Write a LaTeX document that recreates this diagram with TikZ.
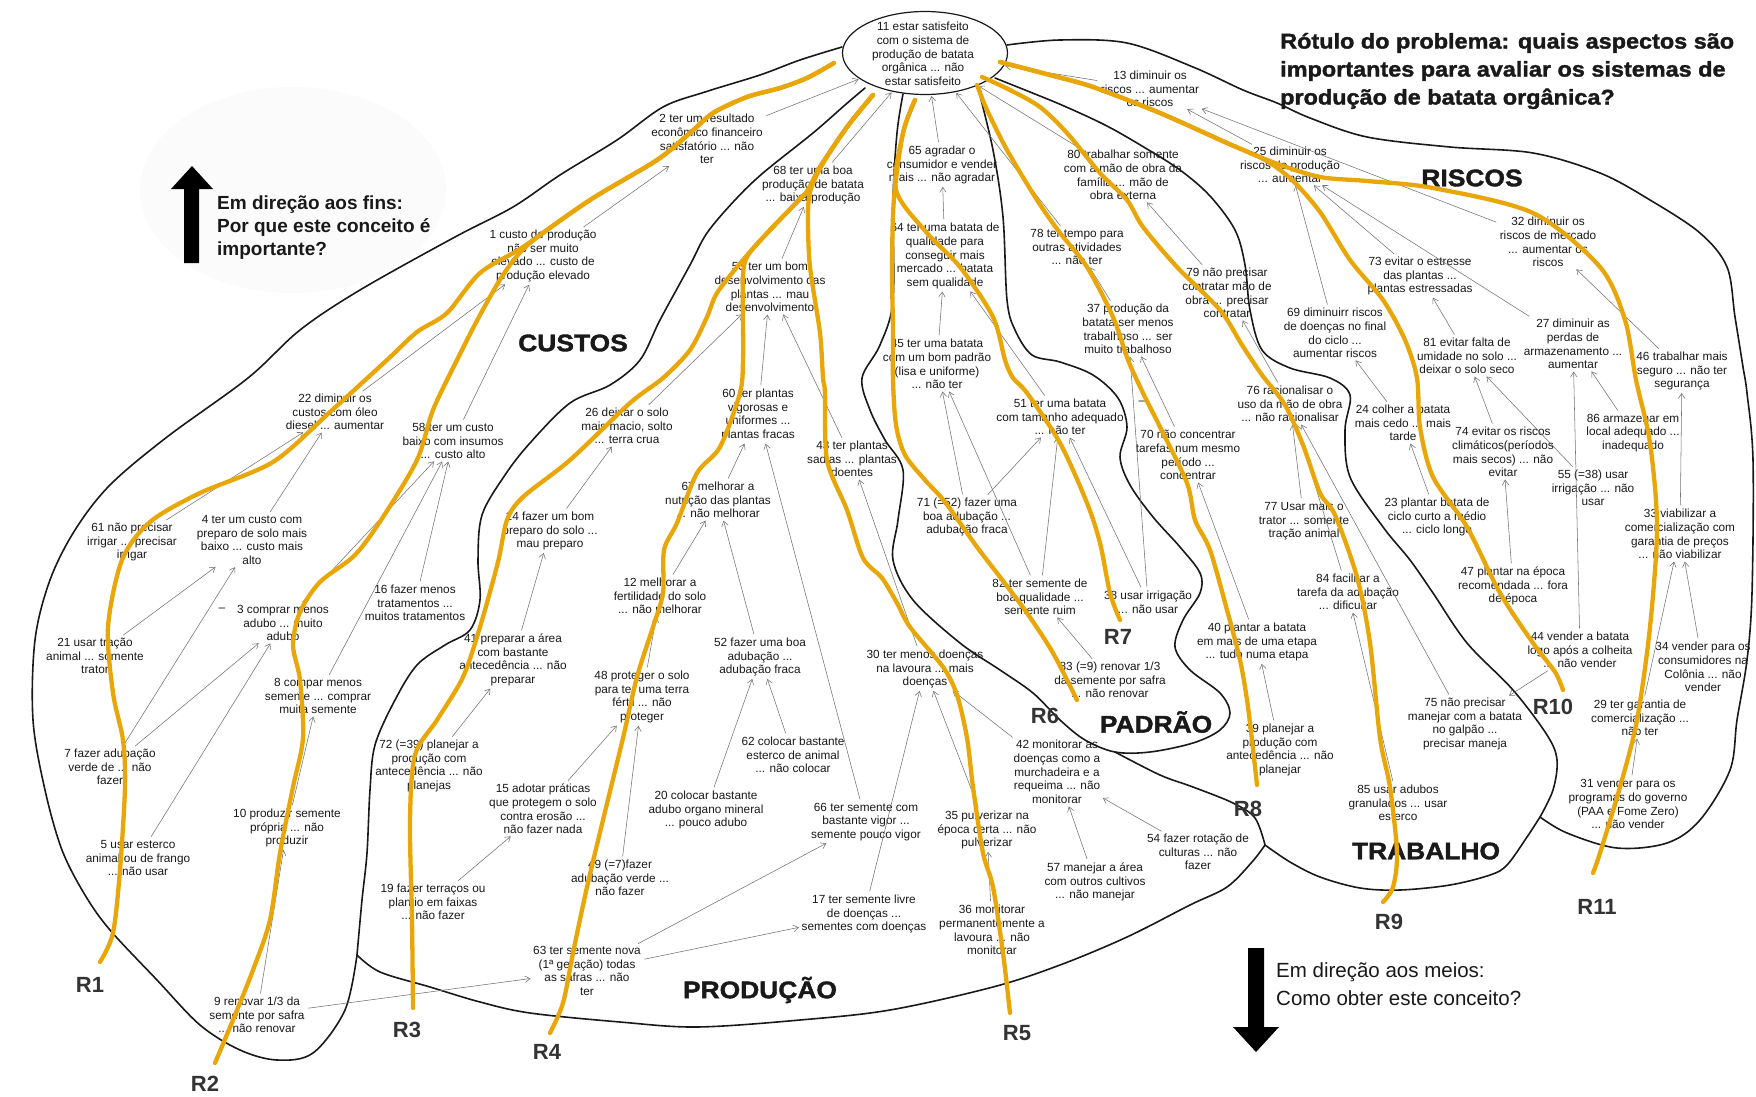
\documentclass[tikz,border=0pt]{standalone}
\usepackage{fontspec}
\setmainfont{Liberation Sans}
\newfontfamily\heavy{Liberation Sans}[FakeStretch=1.1,BoldFeatures={FakeBold=1.6}]
\usetikzlibrary{arrows.meta,shapes.geometric}
\definecolor{rcol}{RGB}{233,166,8}
\definecolor{ink}{RGB}{25,25,25}
\begin{document}
\begin{tikzpicture}[x=1pt,y=-1pt,
  cpt/.style={align=center,font=\fontsize{11.8}{13.7}\selectfont,inner sep=1.5pt,text=ink},
  lnk/.style={draw=black!55,line width=0.55pt,-{Straight Barb[length=5pt,width=6.5pt]},shorten <=2pt,shorten >=1pt},
  bnd/.style={draw=ink,line width=1.6pt,line join=round,line cap=round},
  rpath/.style={draw=rcol,line width=4.3pt,line join=round,line cap=round},
  rlab/.style={font=\bfseries\fontsize{22}{22}\selectfont,text=black!80},
  region/.style={font=\heavy\bfseries\fontsize{24}{24}\selectfont,text=ink},
  blockarrow/.style={fill=black}]
\useasboundingbox (0,0) rectangle (1756,1097);
\fill[white] (0,0) rectangle (1756,1097);

% soft halo behind the upward hint
\fill[black!1.5] (293,190) ellipse [x radius=153pt, y radius=103pt];

% ---------- title and direction hints ----------
\node[anchor=west,align=left,inner sep=0,font=\heavy\bfseries\fontsize{21.3}{28}\selectfont,text=ink] (title) at (1280,71)
  {Rótulo do problema: quais aspectos são\\importantes para avaliar os sistemas de\\produção de batata orgânica?};
\fill[blockarrow] (184,263) -- (199,263) -- (199,189) -- (213,189) -- (192,166) -- (171,189) -- (184,189) -- cycle;
\node[anchor=west,align=left,inner sep=0,font=\bfseries\fontsize{19}{23}\selectfont,text=ink] (upnote) at (217,228)
  {Em direção aos fins:\\Por que este conceito é\\importante?};
\fill[blockarrow] (1248,948) -- (1264,948) -- (1264,1027) -- (1279,1027) -- (1256,1052) -- (1233,1027) -- (1248,1027) -- cycle;
\node[anchor=west,align=left,inner sep=0,font=\fontsize{20.5}{28}\selectfont,text=ink] (downnote) at (1276,984)
  {Em direção aos meios:\\Como obter este conceito?};

% ---------- region boundaries ----------
% custos, outer side
\draw[bnd] plot[smooth,tension=0.55] coordinates {(842,47) (800,60) (760,75) (705,92) (663,107) (617,140) (560,175) (513,207) (455,237) (360,290) (300,330) (248,378) (167,437) (110,485) (75,530) (50,580) (35,640) (33,720) (45,790) (62,850) (85,895) (110,930) (157,980) (200,1025) (240,1050) (277,1060) (313,1053) (345,1010) (357,955)};
% custos / producao
\draw[bnd] plot[smooth,tension=0.55] coordinates {(357,955) (362,900) (367,853) (370,790) (375,745) (395,700) (417,665) (445,645) (470,630) (480,600) (478,560) (482,515) (505,475) (530,443) (570,403) (610,385) (640,360) (660,320) (690,265) (707,233) (735,200) (763,173) (813,133) (845,105) (865,88)};
% producao, bottom
\draw[bnd] plot[smooth,tension=0.55] coordinates {(357,955) (380,972) (430,987) (480,1002) (530,1013) (620,1022) (697,1027) (800,1020) (890,1010) (993,987) (1060,965) (1127,937) (1190,905) (1227,887) (1252,862) (1265,845)};
% padrao, closed loop
\draw[bnd] plot[smooth,tension=0.55] coordinates {(903,94) (897,133) (893,200) (893,300) (880,345) (862,378) (870,410) (885,440) (903,470) (898,520) (893,560) (913,600) (960,643) (1000,670) (1033,693) (1060,720) (1085,740) (1115,752) (1150,752) (1193,743) (1220,730) (1230,713) (1220,693) (1190,670) (1175,647) (1183,620) (1200,593) (1200,573) (1180,547) (1153,517) (1130,485) (1120,457) (1127,427) (1118,398) (1093,375) (1060,362) (1032,355) (1015,330) (1007,300) (1003,217) (993,150) (978,88)};
% producao / trabalho
\draw[bnd] plot[smooth,tension=0.55] coordinates {(1115,752) (1160,775) (1193,787) (1233,803) (1255,818) (1265,845)};
% trabalho, bottom
\draw[bnd] plot[smooth,tension=0.55] coordinates {(1265,845) (1290,862) (1320,877) (1360,888) (1400,890) (1450,885) (1490,875) (1507,865) (1527,837) (1540,817)};
% trabalho / riscos
\draw[bnd] plot[smooth,tension=0.55] coordinates {(995,78) (1030,92) (1064,106) (1105,125) (1142,146) (1180,170) (1210,196) (1235,230) (1245,265) (1250,310) (1262,350) (1290,368) (1330,378) (1350,395) (1345,430) (1350,477) (1383,527) (1410,560) (1433,593) (1467,643) (1513,690) (1547,735) (1557,760) (1553,790) (1540,817)};
% riscos, outer side
\draw[bnd] plot[smooth,tension=0.55] coordinates {(1007,45) (1060,40) (1127,43) (1193,67) (1243,90) (1277,103) (1310,118) (1367,137) (1450,147) (1533,153) (1600,173) (1650,200) (1700,233) (1727,267) (1735,317) (1743,367) (1747,393) (1753,460) (1752,593) (1747,660) (1737,720) (1730,770) (1700,820) (1667,843) (1617,848) (1567,833) (1540,817)};

% ---------- concepts ----------
\node[ellipse,draw=ink,line width=1.2pt,minimum width=165pt,minimum height=83pt,inner sep=0] (e11) at (925,53) {};
\node[cpt] (c11) at (923,54) {11 estar satisfeito\\com o sistema de\\produção de batata\\orgânica ... não\\estar satisfeito};
\node[cpt] (c2) at (707,139) {2 ter um resultado\\econômico financeiro\\satisfatório ... não\\ter};
\node[cpt] (c1) at (543,256) {1 custo de produção\\não ser muito\\elevado ... custo de\\produção elevado};
\node[cpt] (c68) at (813,185) {68 ter uma boa\\produção de batata\\... baixa produção};
\node[cpt] (c53) at (770,287) {53 ter um bom\\desenvolvimento das\\plantas ... mau\\desenvolvimento};
\node[cpt] (c65) at (942,165) {65 agradar o\\consumidor e vender\\mais ... não agradar};
\node[cpt] (c64) at (945,256) {64 ter uma batata de\\qualidade para\\conseguir mais\\mercado ... batata\\sem qualidade};
\node[cpt] (c45) at (937,364) {45 ter uma batata\\com um bom padrão\\(lisa e uniforme)\\... não ter};
\node[cpt] (c80) at (1123,175) {80 trabalhar somente\\com a mão de obra da\\família ... mão de\\obra externa};
\node[cpt] (c78) at (1077,247) {78 ter tempo para\\outras atividades\\... não ter};
\node[cpt] (c79) at (1227,293) {79 não precisar\\contratar mão de\\obra ... precisar\\contratar};
\node[cpt] (c37) at (1128,329) {37 produção da\\batata ser menos\\trabalhoso ... ser\\muito trabalhoso};
\node[cpt] (c13) at (1150,89) {13 diminuir os\\riscos ... aumentar\\os riscos};
\node[cpt] (c25) at (1290,165) {25 diminuir os\\riscos de produção\\... aumentar};
\node[cpt] (c32) at (1548,242) {32 diminuir os\\riscos de mercado\\... aumentar os\\riscos};
\node[cpt] (c73) at (1420,276) {73 evitar o estresse\\das plantas ...\\plantas estressadas};
\node[cpt] (c69) at (1335,333) {69 diminuirr riscos\\de doenças no final\\do ciclo ...\\aumentar riscos};
\node[cpt] (c81) at (1467,356) {81 evitar falta de\\umidade no solo ...\\deixar o solo seco};
\node[cpt] (c27) at (1573,344) {27 diminuir as\\perdas de\\armazenamento ...\\aumentar};
\node[cpt] (c46) at (1682,371) {46 trabalhar mais\\seguro ... não ter\\segurança};
\node[cpt] (c24) at (1403,423) {24 colher a batata\\mais cedo ... mais\\tarde};
\node[cpt] (c74) at (1503,452) {74 evitar os riscos\\climáticos(períodos\\mais secos) ... não\\evitar};
\node[cpt] (c86) at (1633,433) {86 armazenar em\\local adequado ...\\inadequado};
\node[cpt] (c55) at (1593,488) {55 (=38) usar\\irrigação ... não\\usar};
\node[cpt] (c23) at (1437,517) {23 plantar batata de\\ciclo curto a médio\\... ciclo longo};
\node[cpt] (c33) at (1680,534) {33 viabilizar a\\comercialização com\\garantia de preços\\... não viabilizar};
\node[cpt] (c47) at (1513,586) {47 plantar na época\\recomendada ... fora\\de época};
\node[cpt] (c84) at (1348,592) {84 facilitar a\\tarefa da adubação\\... dificultar};
\node[cpt] (c44) at (1580,650) {44 vender a batata\\logo após a colheita\\... não vender};
\node[cpt] (c34) at (1703,667) {34 vender para os\\consumidores na\\Colônia ... não\\vender};
\node[cpt] (c75) at (1465,724) {75 não precisar\\manejar com a batata\\no galpão ...\\precisar maneja};
\node[cpt] (c29) at (1640,718) {29 ter garantia de\\comercialização ...\\não ter};
\node[cpt] (c31) at (1628,804) {31 vender para os\\programas do governo\\(PAA e Fome Zero)\\... não vender};
\node[cpt] (c85) at (1398,803) {85 usar adubos\\granulados ... usar\\esterco};
\node[cpt] (c76) at (1290,404) {76 racionalisar o\\uso da mão de obra\\... não racionalisar};
\node[cpt] (c77) at (1304,521) {77 Usar mais o\\trator ... somente\\tração animal};
\node[cpt] (c70) at (1188,455) {70 não concentrar\\tarefas num mesmo\\período ...\\concentrar};
\node[cpt] (c51) at (1060,417) {51 ter uma batata\\com tamanho adequado\\... não ter};
\node[cpt] (c71) at (967,517) {71 (=52) fazer uma\\boa adubação ...\\adubação fraca};
\node[cpt] (c82) at (1040,597) {82 ter semente de\\boa qualidade ...\\semente ruim};
\node[cpt] (c38) at (1148,602) {38 usar irrigação\\... não usar};
\node[cpt] (c83) at (1110,680) {83 (=9) renovar 1/3\\da semente por safra\\... não renovar};
\node[cpt] (c40) at (1257,642) {40 plantar a batata\\em mais de uma etapa\\... tudo numa etapa};
\node[cpt] (c30) at (925,669) {30 ter menos doenças\\na lavoura ... mais\\doenças};
\node[cpt] (c39) at (1280,750) {39 planejar a\\produção com\\antecedência ... não\\planejar};
\node[cpt] (c42) at (1057,772) {42 monitorar as\\doenças como a\\murchadeira e a\\requeima ... não\\monitorar};
\node[cpt] (c35) at (987,830) {35 pulverizar na\\época certa ... não\\pulverizar};
\node[cpt] (c54) at (1198,852) {54 fazer rotação de\\culturas ... não\\fazer};
\node[cpt] (c57) at (1095,882) {57 manejar a área\\com outros cultivos\\... não manejar};
\node[cpt] (c36) at (992,930) {36 monitorar\\permanentemente a\\lavoura ... não\\monitorar};
\node[cpt] (c62) at (793,755) {62 colocar bastante\\esterco de animal\\... não colocar};
\node[cpt] (c15) at (543,809) {15 adotar práticas\\que protegem o solo\\contra erosão ...\\não fazer nada};
\node[cpt] (c20) at (706,810) {20 colocar bastante\\adubo organo mineral\\... pouco adubo};
\node[cpt] (c66) at (866,822) {66 ter semente com\\bastante vigor ...\\semente pouco vigor};
\node[cpt] (c49) at (620,878) {49 (=7)fazer\\adubação verde ...\\não fazer};
\node[cpt] (c17) at (864,914) {17 ter semente livre\\de doenças ...\\sementes com doenças};
\node[cpt] (c63) at (587,971) {63 ter semente nova\\(1ª geração) todas\\as safras ... não\\ter};
\node[cpt] (c48) at (642,697) {48 proteger o solo\\para ter uma terra\\fértil ... não\\proteger};
\node[cpt] (c12) at (660,596) {12 melhorar a\\fertilidade do solo\\... não melhorar};
\node[cpt] (c52) at (760,657) {52 fazer uma boa\\adubação ...\\adubação fraca};
\node[cpt] (c67) at (718,500) {67 melhorar a\\nutrição das plantas\\... não melhorar};
\node[cpt] (c60) at (758,415) {60 ter plantas\\vigorosas e\\uniformes ...\\plantas fracas};
\node[cpt] (c43) at (852,459) {43 ter plantas\\sadias ... plantas\\doentes};
\node[cpt] (c26) at (627,426) {26 deixar o solo\\mais macio, solto\\... terra crua};
\node[cpt] (c14) at (550,531) {14 fazer um bom\\preparo do solo ...\\mau preparo};
\node[cpt] (c41) at (513,660) {41 preparar a área\\com bastante\\antecedência ... não\\preparar};
\node[cpt] (c72) at (429,766) {72 (=39) planejar a\\produção com\\antecedência ... não\\planejas};
\node[cpt] (c19) at (433,902) {19 fazer terraços ou\\plantio em faixas\\... não fazer};
\node[cpt] (c9) at (257,1015) {9 renovar 1/3 da\\semente por safra\\... não renovar};
\node[cpt] (c10) at (287,828) {10 produzir semente\\própria ... não\\produzir};
\node[cpt] (c5) at (138,858) {5 usar esterco\\animal ou de frango\\... não usar};
\node[cpt] (c7) at (110,767) {7 fazer adubação\\verde de ... não\\fazer};
\node[cpt] (c8) at (318,696) {8 compar menos\\semente ... comprar\\muita semente};
\node[cpt] (c21) at (95,656) {21 usar tração\\animal ... somente\\trator};
\node[cpt] (c3) at (283,623) {3 comprar menos\\adubo ... muito\\adubo};
\node[cpt] (c16) at (415,603) {16 fazer menos\\tratamentos ...\\muitos tratamentos};
\node[cpt] (c4) at (252,540) {4 ter um custo com\\preparo de solo mais\\baixo ... custo mais\\alto};
\node[cpt] (c61) at (132,542) {61 não precisar\\irrigar ... precisar\\irrigar};
\node[cpt] (c22) at (335,412) {22 diminuir os\\custos com óleo\\diesel ... aumentar};
\node[cpt] (c58) at (453,441) {58 ter um custo\\baixo com insumos\\... custo alto};
\node[cpt] (m1) at (222,610) {–};
\node[cpt] (m2) at (1142,403) {–};

% ---------- links (means -> ends) ----------
\foreach \s/\t in {c2/e11,c68/e11,c65/e11,c78/e11,c80/e11,c13/e11,
  c1/c2,c22/c1,c58/c1,c61/c22,c4/c22,c21/c4,c7/c4,c7/c3,c5/c3,
  c3/c58,c16/c58,c8/c58,c10/c8,c9/c10,c9/c63,
  c53/c68,c26/c53,c60/c53,c43/c53,c14/c26,c41/c14,c72/c41,
  c67/c60,c66/c60,c12/c67,c52/c67,c48/c12,c49/c48,c15/c48,c19/c15,c62/c52,c20/c52,
  c63/c66,c63/c17,c30/c43,c17/c30,c35/c30,c42/c30,c36/c35,c57/c42,c54/c42,
  c64/c65,c45/c64,c51/c64,c71/c45,c82/c45,c71/c51,c82/c51,c38/c51,c83/c82,
  c79/c80,c37/c78,c76/c79,c70/c37,c38/c37,c40/c70,c39/c40,c77/c76,c84/c76,c75/c76,c85/c84,
  c25/c13,c32/c13,c73/c25,c27/c25,c69/c25,c81/c73,c24/c69,c23/c24,c74/c81,c55/c81,c47/c74,
  c86/c27,c44/c27,c46/c32,c33/c46,c34/c33,c29/c33,c31/c29,c44/c75}
  \draw[lnk] (\s) -- (\t);

% ---------- region names ----------
\node[region] (lcustos) at (573,343) {CUSTOS};
\node[region] (lproducao) at (760,990) {PRODUÇÃO};
\node[region] (lpadrao) at (1156,722) {PADRÃO};
\node[region] (ltrabalho) at (1426,851) {TRABALHO};
\node[region] (lriscos) at (1472,178) {RISCOS};

% ---------- ladders R1..R11 ----------
\draw[rpath] plot[smooth,tension=0.5] coordinates {(834,63) (807,78) (780,88) (747,97) (713,113) (690,133) (657,160) (590,200) (523,247) (480,273) (447,313) (417,332) (387,360) (330,412) (273,462) (200,493) (150,522) (122,560) (108,627) (113,693) (123,740) (125,787) (120,870) (113,933) (100,962)};
\draw[rpath] plot[smooth,tension=0.5] coordinates {(834,63) (807,78) (780,88) (747,97) (713,113) (690,133) (657,160) (590,200) (530,243) (505,272) (480,315) (457,360) (433,410) (417,460) (383,517) (355,555) (320,582) (300,612) (293,645) (300,680) (303,738) (293,787) (280,853) (270,920) (253,970) (233,1020) (215,1063)};
\draw[rpath] plot[smooth,tension=0.5] coordinates {(873,95) (847,127) (820,167) (808,190) (797,202) (770,230) (743,260) (717,293) (707,317) (690,350) (663,378) (630,403) (570,460) (523,497) (507,520) (498,562) (480,627) (463,677) (437,720) (415,755) (410,820) (412,920) (413,1008)};
\draw[rpath] plot[smooth,tension=0.5] coordinates {(873,95) (847,127) (820,167) (808,190) (797,202) (770,230) (748,255) (743,275) (743,320) (743,360) (740,393) (720,447) (697,473) (677,523) (664,550) (663,593) (653,627) (637,677) (623,738) (603,820) (587,887) (573,953) (563,1003) (550,1033)};
\draw[rpath] plot[smooth,tension=0.5] coordinates {(873,95) (847,127) (822,165) (810,192) (808,220) (810,267) (820,333) (823,378) (825,393) (827,460) (847,510) (863,558) (882,578) (897,603) (910,627) (943,667) (957,695) (967,738) (973,787) (983,853) (993,887) (1003,953) (1010,1013)};
\draw[rpath] plot[smooth,tension=0.5] coordinates {(915,100) (903,133) (894,198) (892,267) (893,330) (893,380) (896,425) (905,455) (925,480) (945,502) (977,547) (1000,577) (1027,613) (1053,653) (1077,700)};
\draw[rpath] plot[smooth,tension=0.5] coordinates {(915,100) (903,133) (896,190) (927,233) (960,267) (993,317) (1005,360) (1013,378) (1027,393) (1060,443) (1087,503) (1100,543) (1110,593) (1120,620)};
\draw[rpath] plot[smooth,tension=0.5] coordinates {(977,85) (987,110) (1007,150) (1037,200) (1060,233) (1087,267) (1113,317) (1128,360) (1143,393) (1160,427) (1187,483) (1195,520) (1210,550) (1227,610) (1240,660) (1247,700) (1252,740) (1257,785)};
\draw[rpath] plot[smooth,tension=0.5] coordinates {(982,77) (1010,90) (1040,107) (1067,133) (1100,173) (1127,200) (1143,227) (1177,267) (1220,310) (1242,345) (1262,375) (1285,405) (1303,445) (1320,493) (1335,515) (1357,577) (1370,643) (1380,738) (1390,787) (1397,853) (1393,887) (1383,902)};
\draw[rpath] plot[smooth,tension=0.5] coordinates {(1000,62) (1050,75) (1093,87) (1160,113) (1227,143) (1265,160) (1292,180) (1320,212) (1350,260) (1383,300) (1405,340) (1417,378) (1420,427) (1433,477) (1467,527) (1500,593) (1533,643) (1555,672) (1563,690)};
\draw[rpath] plot[smooth,tension=0.5] coordinates {(1000,62) (1050,75) (1093,87) (1160,113) (1227,143) (1275,163) (1320,177) (1367,181) (1433,188) (1533,213) (1600,267) (1625,320) (1636,380) (1650,443) (1657,527) (1650,627) (1637,720) (1620,787) (1600,853) (1593,873)};

\node[rlab] (r1) at (90,985) {R1};
\node[rlab] (r2) at (205,1084) {R2};
\node[rlab] (r3) at (407,1030) {R3};
\node[rlab] (r4) at (547,1052) {R4};
\node[rlab] (r5) at (1017,1033) {R5};
\node[rlab] (r6) at (1045,716) {R6};
\node[rlab] (r7) at (1118,637) {R7};
\node[rlab] (r8) at (1248,809) {R8};
\node[rlab] (r9) at (1389,922) {R9};
\node[rlab] (r10) at (1553,707) {R10};
\node[rlab] (r11) at (1597,907) {R11};
\end{tikzpicture}
\end{document}
